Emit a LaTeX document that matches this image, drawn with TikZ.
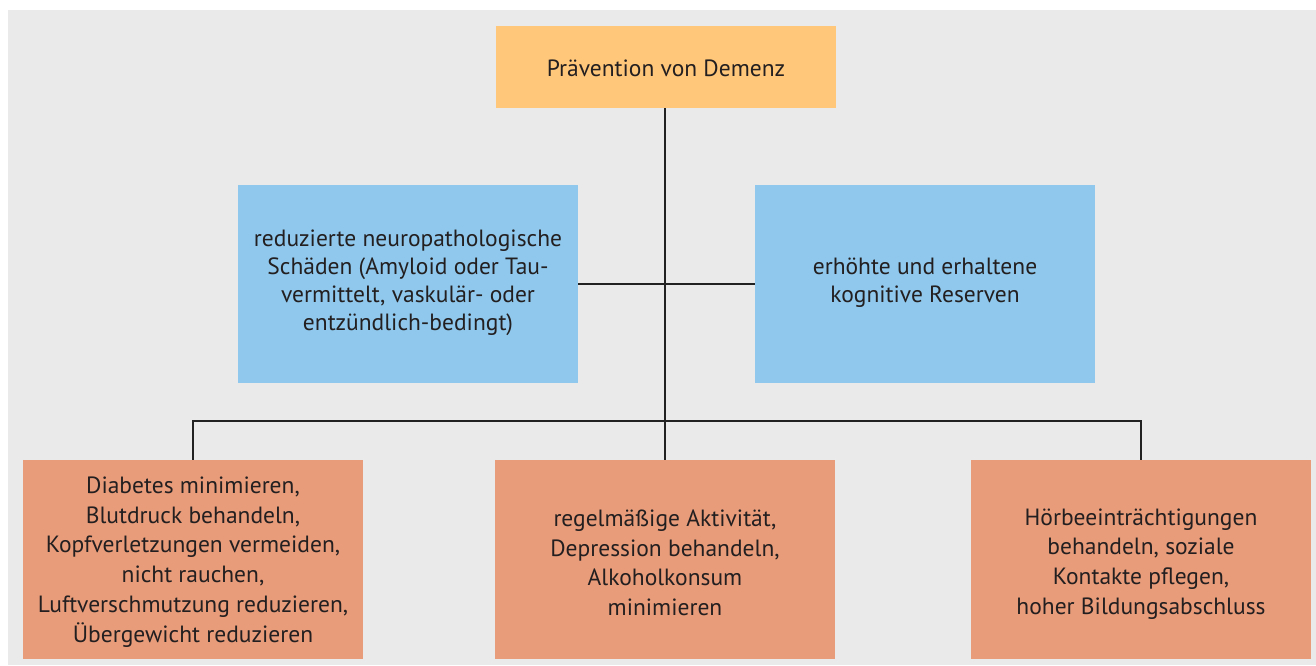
\documentclass[tikz,border=0pt]{standalone}
\usepackage{fontspec}
\setmainfont{PT Sans}
\definecolor{bg}{HTML}{EAEAEA}
\definecolor{topc}{HTML}{FFC77A}
\definecolor{bluec}{HTML}{8FC8EC}
\definecolor{orc}{HTML}{E89C7A}
\definecolor{txt}{HTML}{231F20}
\definecolor{ln}{HTML}{222222}
\tikzset{
  box/.style={minimum width=340pt, inner sep=0pt},
  topbox/.style={box, fill=topc, minimum height=82pt},
  bluebox/.style={box, fill=bluec, minimum height=198pt},
  orbox/.style={box, fill=orc, minimum height=199pt},
  lbl/.style={inner sep=0pt, align=center, text=txt, font=\fontsize{23.5}{29.7}\selectfont},
  lblb/.style={lbl, font=\fontsize{23.5}{28}\selectfont},
  conn/.style={draw=ln, line width=1.1pt}
}
\begin{document}
\begin{tikzpicture}[x=1pt,y=-1pt]
\useasboundingbox (0,0) rectangle (1316,665);
\fill[white] (0,0) rectangle (1316,665);
\fill[bg] (8,10) rectangle (1316,665);
\node[topbox] (top) at (666,67) {};
\node[bluebox] (bl) at (408,284) {};
\node[bluebox] (br) at (925,284) {};
\node[orbox] (ol) at (193,559.5) {};
\node[orbox] (om) at (665,559.5) {};
\node[orbox] (or) at (1141,559.5) {};
\node[lbl, yshift=-1pt] (topT) at (top.center) {Prävention von Demenz};
\node[lblb, yshift=1pt] (blT) at (bl.center) {reduzierte neuropathologische\\Schäden (Amyloid oder Tau-\\vermittelt, vaskulär- oder\\entzündlich-bedingt)};
\node[lblb, yshift=1pt] (brT) at (br.center) {erhöhte und erhaltene\\kognitive Reserven};
\node[lbl, yshift=-2.5pt] (olT) at (ol.center) {Diabetes minimieren,\\Blutdruck behandeln,\\Kopfverletzungen vermeiden,\\nicht rauchen,\\Luftverschmutzung reduzieren,\\Übergewicht reduzieren};
\node[lbl, yshift=-3.2pt] (omT) at (om.center) {regelmäßige Aktivität,\\Depression behandeln,\\Alkoholkonsum\\minimieren};
\node[lbl, yshift=-4.3pt] (orT) at (or.center) {Hörbeeinträchtigungen\\behandeln, soziale\\Kontakte pflegen,\\hoher Bildungsabschluss};
\coordinate (bar) at (665,421);
\draw[conn] (top.south -| om.north) -- (om.north);
\draw[conn] (bl.east) -- (br.west);
\draw[conn] (ol.north) -- (ol.north |- bar) -- (or.north |- bar) -- (or.north);
\end{tikzpicture}
\end{document}
